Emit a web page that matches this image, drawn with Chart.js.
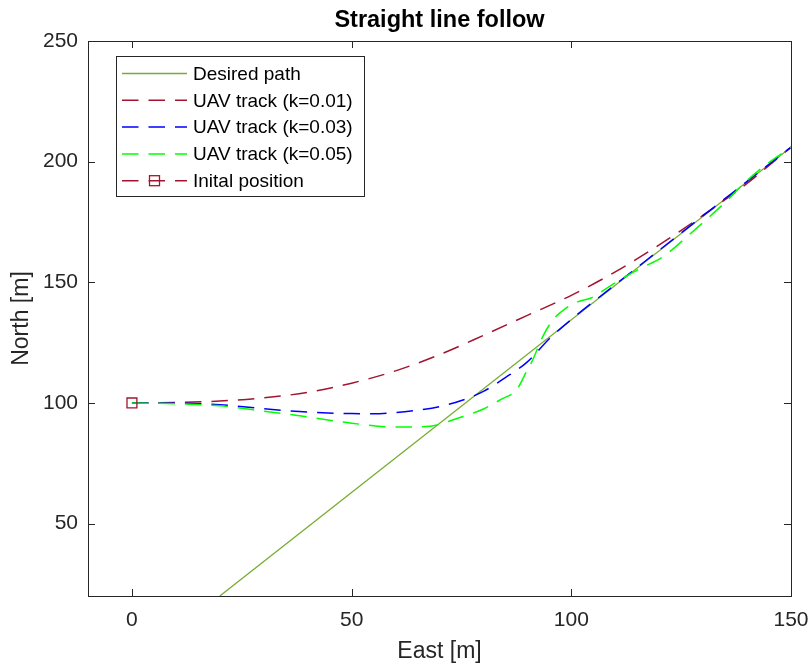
<!DOCTYPE html>
<html>
<head>
<meta charset="utf-8">
<script src="https://cdn.jsdelivr.net/npm/chart.js@4/dist/chart.umd.min.js"></script>
<style>
  html, body { margin: 0; padding: 0; background: #fff; }
  #wrap { width: 811px; height: 666px; position: relative; }
</style>
</head>
<body>
<div id="wrap"><canvas id="c" width="811" height="666"></canvas></div>
<script>
// Axis ticks
const xTicks = [0, 50, 100, 150];
const yTicks = [50, 100, 150, 200, 250];

// Desired straight path
const pathX = [20, 150];
const pathY = [20, 206];

// UAV track, k = 0.01
const k01X = [0, 10, 20, 30, 40, 50, 60, 70, 80, 90, 100, 110, 120, 130, 140, 150];
const k01Y = [100, 100.2, 100.8, 102.1, 104.4, 108.2, 113.3, 120, 128, 136.3, 144.6, 154.3, 165.5, 177.8, 191, 206];

// UAV track, k = 0.03
const k03X = [0, 10, 20, 30, 40, 50, 55, 60, 65, 70, 75, 80, 85, 90, 95, 100, 110, 120, 130, 140, 150];
const k03Y = [100, 99.9, 99.3, 97.6, 96.2, 95.6, 95.5, 96, 97, 98.5, 101, 104.8, 110.5, 117, 126.6, 134.6, 149, 163.3, 177.6, 191.8, 206];

// UAV track, k = 0.05
const k05X = [0, 10, 20, 30, 40, 50, 60, 67, 75, 80, 84, 87.5, 89.8, 91.2, 93.5, 95.8, 98.8, 101.4, 104.5, 108, 112.2, 116, 120.8, 127, 130.9, 135.5, 139.3, 144, 150];
const k05Y = [100, 99.7, 98.8, 96.6, 94.2, 91.6, 90, 90.2, 94.2, 97.5, 101.5, 105.4, 113, 117.8, 127.5, 134.4, 139.3, 141.9, 143.5, 147.5, 152.2, 156, 160.5, 170, 176.3, 184, 191, 198.3, 206];

// Starting point
const startX = [0];
const startY = [100];

const seriesNames = ['Desired path', 'UAV track (k=0.01)', 'UAV track (k=0.03)', 'UAV track (k=0.05)', 'Inital position'];

const FONT = '"Liberation Sans", Arial, Helvetica, sans-serif';
const INK = '#262626';
const DASH = [16.5, 10];

const pts = (xs, ys) => xs.map((x, i) => ({ x, y: ys[i] }));

const datasets = [
  { label: seriesNames[0], data: pts(pathX, pathY), borderColor: '#77AC30', borderWidth: 1.3, order: 5 },
  { label: seriesNames[1], data: pts(k01X, k01Y), borderColor: '#A2142F', borderWidth: 1.5, borderDash: DASH, order: 4 },
  { label: seriesNames[2], data: pts(k03X, k03Y), borderColor: '#0000FF', borderWidth: 1.5, borderDash: DASH, order: 3 },
  { label: seriesNames[3], data: pts(k05X, k05Y), borderColor: '#00FF00', borderWidth: 1.5, borderDash: DASH, order: 2 },
  { label: seriesNames[4], data: pts(startX, startY), borderColor: '#A2142F', borderWidth: 1.5, borderDash: DASH,
    pointStyle: 'rect', pointRadius: 7, pointBorderColor: '#A2142F', pointBorderWidth: 1.3,
    pointBackgroundColor: 'rgba(0,0,0,0)', order: 1 }
];
datasets.forEach(d => {
  d.fill = false;
  d.cubicInterpolationMode = 'monotone';
  if (d.pointRadius === undefined) d.pointRadius = 0;
  d.pointHoverRadius = 0;
});

// Box, inward tick marks, title and in-plot legend
const decorations = {
  id: 'decorations',
  afterDatasetsDraw(chart) {
    const { ctx, chartArea: a, scales } = chart;
    const tl = 7;
    ctx.save();
    ctx.strokeStyle = INK;
    ctx.lineWidth = 1;
    ctx.setLineDash([]);
    ctx.beginPath();
    xTicks.forEach(v => {
      const px = Math.round(scales.x.getPixelForValue(v)) + 0.5;
      ctx.moveTo(px, a.bottom); ctx.lineTo(px, a.bottom - tl);
      ctx.moveTo(px, a.top); ctx.lineTo(px, a.top + tl);
    });
    yTicks.forEach(v => {
      const py = Math.round(scales.y.getPixelForValue(v)) + 0.5;
      ctx.moveTo(a.left, py); ctx.lineTo(a.left + tl, py);
      ctx.moveTo(a.right, py); ctx.lineTo(a.right - tl, py);
    });
    ctx.stroke();
    ctx.strokeRect(Math.round(a.left) + 0.5, Math.round(a.top) + 0.5,
                   Math.round(a.right - a.left), Math.round(a.bottom - a.top));

    // title
    ctx.fillStyle = '#000';
    ctx.font = 'bold 23.5px ' + FONT;
    ctx.textAlign = 'center';
    ctx.textBaseline = 'middle';
    ctx.fillText('Straight line follow', (a.left + a.right) / 2, 21);

    // legend
    const lx = 116, ly = 56, lw = 248, lh = 140;
    ctx.fillStyle = '#fff';
    ctx.fillRect(lx, ly, lw, lh);
    ctx.strokeStyle = INK;
    ctx.strokeRect(lx + 0.5, ly + 0.5, lw, lh);
    ctx.font = '19px ' + FONT;
    ctx.textAlign = 'left';
    ctx.textBaseline = 'middle';
    chart.data.datasets.forEach((d, i) => {
      const y = 73.5 + i * 26.8;
      ctx.strokeStyle = d.borderColor;
      ctx.lineWidth = d.borderWidth;
      ctx.setLineDash(d.borderDash || []);
      ctx.beginPath();
      ctx.moveTo(122, y); ctx.lineTo(187, y);
      ctx.stroke();
      ctx.setLineDash([]);
      if (d.pointRadius > 0) {
        const s = 10;
        ctx.lineWidth = d.pointBorderWidth;
        ctx.strokeStyle = d.pointBorderColor;
        ctx.strokeRect(154.5 - s / 2, y - s / 2, s, s);
      }
      ctx.fillStyle = '#000';
      ctx.fillText(d.label, 193, y + 1);
    });
    ctx.restore();
  }
};

new Chart(document.getElementById('c'), {
  type: 'line',
  data: { datasets },
  options: {
    responsive: false,
    animation: false,
    devicePixelRatio: 1,
    layout: { padding: { top: 41, right: 20, left: 0, bottom: 0 } },
    plugins: { legend: { display: false }, tooltip: { enabled: false }, title: { display: false } },
    elements: { line: { borderCapStyle: 'butt' } },
    scales: {
      x: {
        type: 'linear', min: -10, max: 150,
        afterBuildTicks: s => { s.ticks = xTicks.map(v => ({ value: v })); },
        afterFit: s => { s.height = 70; s.paddingLeft = 0; s.paddingRight = 0; },
        grid: { display: false, drawTicks: false },
        border: { display: false },
        ticks: { color: INK, font: { family: FONT, size: 21 }, padding: 12, maxRotation: 0 },
        title: { display: true, text: 'East [m]', color: INK, font: { family: FONT, size: 23 }, padding: { top: 0, bottom: 1 } }
      },
      y: {
        type: 'linear', min: 20, max: 250,
        afterBuildTicks: s => { s.ticks = yTicks.map(v => ({ value: v })); },
        afterFit: s => { s.width = 88; s.paddingTop = 0; s.paddingBottom = 0; },
        grid: { display: false, drawTicks: false },
        border: { display: false },
        ticks: { color: INK, font: { family: FONT, size: 21 }, padding: 10 },
        title: { display: true, text: 'North [m]', color: INK, font: { family: FONT, size: 23 }, padding: { top: 8, bottom: 0 } }
      }
    }
  },
  plugins: [decorations]
});
</script>
</body>
</html>
